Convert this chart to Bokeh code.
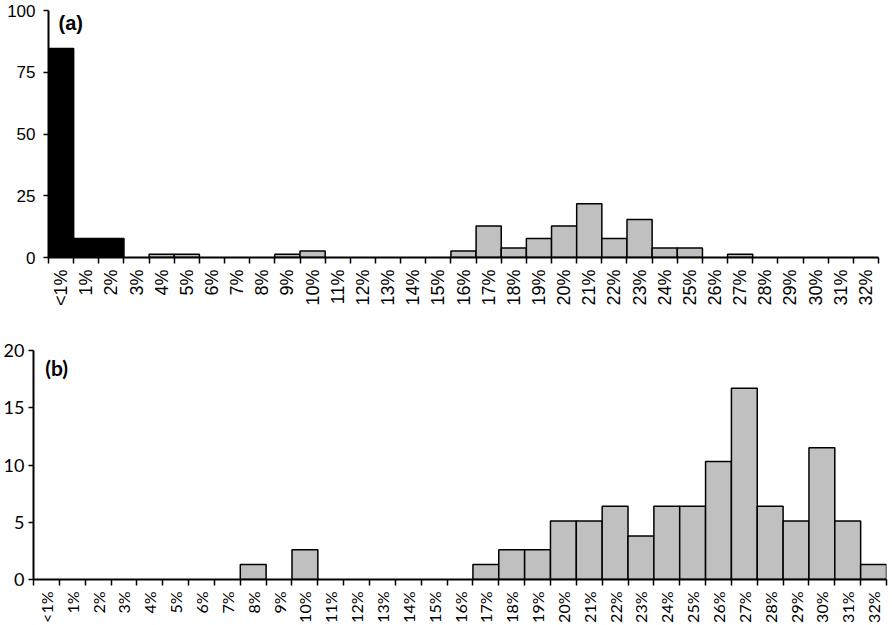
import math
from bokeh.plotting import figure
from bokeh.models import FixedTicker, CustomJSTickFormatter, Label, Range1d, ColumnDataSource
from bokeh.embed import file_html
from bokeh.resources import INLINE

categories = ["<1%", "1%", "2%", "3%", "4%", "5%", "6%", "7%", "8%", "9%", "10%",
              "11%", "12%", "13%", "14%", "15%", "16%", "17%", "18%", "19%", "20%",
              "21%", "22%", "23%", "24%", "25%", "26%", "27%", "28%", "29%", "30%",
              "31%", "32%"]

a_black = [84.6, 7.7, 7.7, 0, 0, 0, 0, 0, 0, 0, 0,
           0, 0, 0, 0, 0, 0, 0, 0, 0, 0,
           0, 0, 0, 0, 0, 0, 0, 0, 0, 0,
           0, 0]
a_gray = [0, 0, 0, 0, 1.3, 1.3, 0, 0, 0, 1.3, 2.6,
          0, 0, 0, 0, 0, 2.6, 12.8, 3.8, 7.7, 12.8,
          21.8, 7.7, 15.4, 3.8, 3.8, 0, 1.3, 0, 0, 0,
          0, 0]
b_gray = [0, 0, 0, 0, 0, 0, 0, 0, 1.3, 0, 2.6,
          0, 0, 0, 0, 0, 0, 1.3, 2.6, 2.6, 5.1,
          5.1, 6.4, 3.8, 6.4, 6.4, 10.3, 16.7, 6.4, 5.1, 11.5,
          5.1, 1.3]

a_yticks = [0, 25, 50, 75, 100]
b_yticks = [0, 5, 10, 15, 20]


def make_panel(series, colors, ymax, yticks, font, tick_size, ytick_size, label,
               label_size, label_xy, height, width, borders, ystandoff):
    n = len(categories)
    p = figure(width=width, height=height, output_backend="svg", toolbar_location=None,
               x_range=Range1d(0, n), y_range=Range1d(0, ymax))
    p.min_border_left, p.min_border_right, p.min_border_top, p.min_border_bottom = borders
    p.outline_line_color = None
    p.grid.visible = False
    centers = [i + 0.5 for i in range(n)]
    for vals, col in zip(series, colors):
        xs = [c for c, v in zip(centers, vals) if v > 0]
        tops = [v for v in vals if v > 0]
        src = ColumnDataSource(dict(x=xs, top=tops))
        p.vbar(x="x", top="top", bottom=0, width=1, source=src,
               fill_color=col, line_color="black", line_width=1.5)
    # x axis: labels at centres, ticks at boundaries
    xa = p.xaxis[0]
    xa.ticker = FixedTicker(ticks=centers, minor_ticks=list(range(n + 1)))
    xa.formatter = CustomJSTickFormatter(args=dict(labels=categories),
                                         code="return labels[Math.floor(tick)] || '';")
    xa.major_tick_line_color = None
    xa.minor_tick_line_color = "black"
    xa.minor_tick_line_width = 1.5
    xa.minor_tick_in = 0
    xa.minor_tick_out = 6
    xa.axis_line_width = 2
    xa.major_label_orientation = math.pi / 2
    xa.major_label_text_font = font
    xa.major_label_text_font_size = tick_size
    xa.major_label_text_color = "black"
    xa.major_label_standoff = 6
    # y axis
    ya = p.yaxis[0]
    ya.ticker = FixedTicker(ticks=yticks, minor_ticks=[])
    ya.major_tick_in = 0
    ya.major_tick_out = 5
    ya.major_tick_line_width = 1.5
    ya.axis_line_width = 2
    ya.major_label_text_font = font
    ya.major_label_text_font_size = ytick_size
    ya.major_label_text_color = "black"
    ya.major_label_standoff = ystandoff
    p.add_layout(Label(x=label_xy[0], y=label_xy[1], text=label, text_font=font,
                       text_font_style="bold", text_font_size=label_size,
                       text_baseline="middle", text_color="black"))
    return p


pa = make_panel([a_black, a_gray], ["black", "#c0c0c0"], 100, a_yticks,
                "Liberation Sans", "18px", "17px", "(a)", "20px", (0.4, 95),
                310, 892, (48, 14, 10, 53), 8)
pb = make_panel([b_gray], ["#c0c0c0"], 20, b_yticks,
                "Lato", "16px", "18px", "(b)", "21px", (0.45, 18.5),
                315, 892, (32, 6, 40, 46), 4)

open("out.html", "w").write(file_html([pa, pb], INLINE))
